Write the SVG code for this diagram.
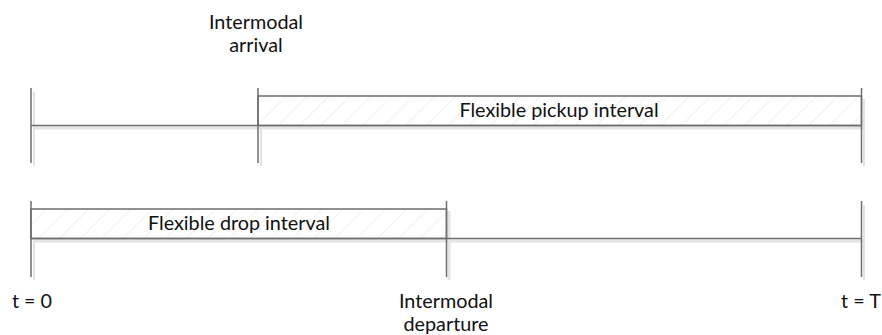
<svg xmlns="http://www.w3.org/2000/svg" width="882" height="335" viewBox="0 0 882 335">
  <defs>
    <pattern id="hatch" patternUnits="userSpaceOnUse" width="15" height="15" patternTransform="rotate(45)">
      <line x1="0" y1="0" x2="0" y2="15" stroke="#ececec" stroke-width="1.5"/>
    </pattern>
  </defs>
  <style>
    .ln { stroke: #6e6e6e; stroke-width: 1.5; fill: none; }
    .sh { stroke: #e2e2e2; stroke-width: 2; fill: none; }
    .shb { stroke: #e4e4e4; stroke-width: 3; fill: none; }
    .bar { fill: url(#hatch); stroke: #6e6e6e; stroke-width: 1.5; }
    .lbl { font-family: Lato, "Liberation Sans", sans-serif; font-size: 19.8px; fill: #111; text-anchor: middle; }
  </style>

  <!-- shadows -->
  <g id="shadows">
    <line class="sh" x1="34" y1="92" x2="34" y2="166"/>
    <line class="shb" x1="34" y1="128" x2="864" y2="128"/>
    <line class="sh" x1="261" y1="128" x2="261" y2="166"/>
    <line class="sh" x1="864" y1="99" x2="864" y2="166"/>
    <line class="sh" x1="34" y1="241" x2="34" y2="280"/>
    <line class="shb" x1="34" y1="241" x2="864" y2="241"/>
    <line class="shb" x1="449" y1="211" x2="449" y2="280"/>
    <line class="sh" x1="864" y1="205" x2="864" y2="280"/>
  </g>

  <!-- upper timeline -->
  <g id="pickup-interval">
    <rect class="bar" x="258" y="96" width="603.5" height="29.5"/>
    <text class="lbl" x="559" y="117">Flexible pickup interval</text>
  </g>
  <g id="upper-axis">
    <line class="ln" x1="31" y1="88" x2="31" y2="163"/>
    <line class="ln" x1="31" y1="125.5" x2="861.5" y2="125.5"/>
    <line class="ln" x1="258" y1="88" x2="258" y2="163"/>
    <line class="ln" x1="861.5" y1="88" x2="861.5" y2="163"/>
  </g>
  <g id="arrival-label">
    <text class="lbl" x="256" y="29">Intermodal</text>
    <text class="lbl" x="256" y="52">arrival</text>
  </g>

  <!-- lower timeline -->
  <g id="drop-interval">
    <rect class="bar" x="31" y="209" width="415.5" height="29.5"/>
    <text class="lbl" x="239" y="230">Flexible drop interval</text>
  </g>
  <g id="lower-axis">
    <line class="ln" x1="31" y1="201" x2="31" y2="277"/>
    <line class="ln" x1="31" y1="238.5" x2="861.5" y2="238.5"/>
    <line class="ln" x1="446.5" y1="201" x2="446.5" y2="277"/>
    <line class="ln" x1="861.5" y1="201" x2="861.5" y2="277"/>
  </g>
  <g id="departure-label">
    <text class="lbl" x="446" y="308">Intermodal</text>
    <text class="lbl" x="446" y="331">departure</text>
  </g>
  <g id="start-label">
    <text class="lbl" x="32" y="308">t = 0</text>
  </g>
  <g id="end-label">
    <text class="lbl" x="861" y="308">t = T</text>
  </g>
</svg>
